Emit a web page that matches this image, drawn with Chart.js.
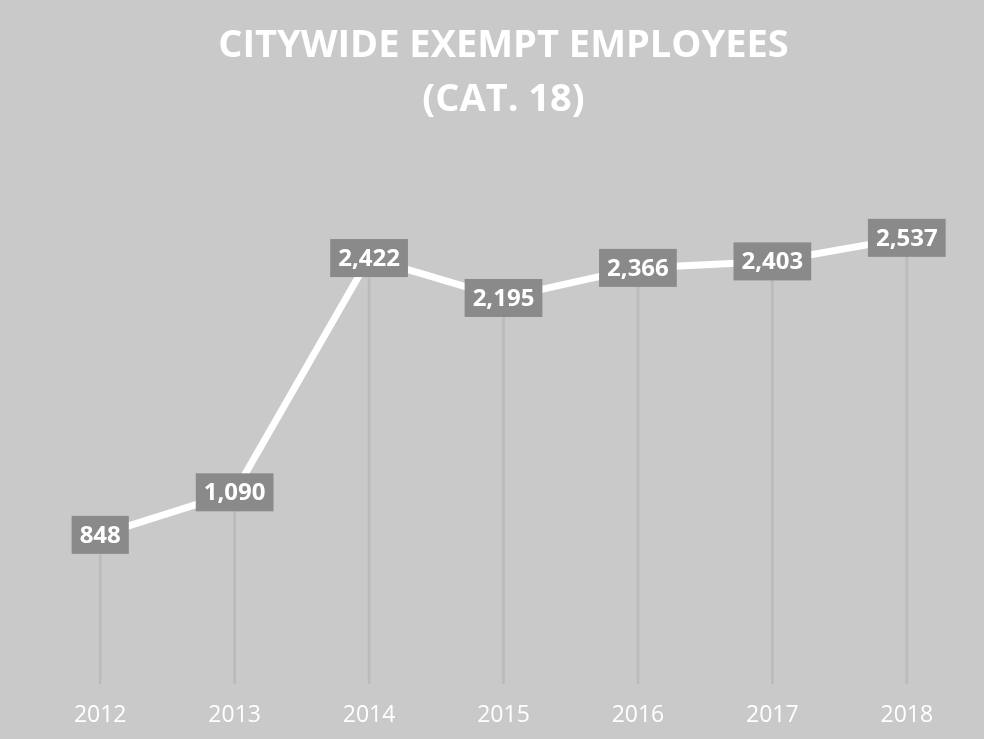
<!DOCTYPE html>
<html>
<head>
<meta charset="utf-8">
<script src="https://cdn.jsdelivr.net/npm/chart.js@4.4.1/dist/chart.umd.min.js"></script>
<style>
    html, body { margin: 0; padding: 0; background: #c9c9c9; }
    #wrap { width: 984px; height: 739px; }
</style>
</head>
<body>
<div id="wrap"><canvas id="exemptChart"></canvas></div>
<script>
const years = ['2012', '2013', '2014', '2015', '2016', '2017', '2018'];
const employees = [848, 1090, 2422, 2195, 2366, 2403, 2537];
const titleLines = ['CITYWIDE EXEMPT EMPLOYEES', '(CAT. 18)'];

// value boxes centred on each point of the line
const valueBoxes = {
    id: 'valueBoxes',
    afterDatasetsDraw(chart) {
        const meta = chart.getDatasetMeta(1);
        const ctx = chart.ctx;
        ctx.save();
        ctx.font = 'bold 24px "Open Sans", sans-serif';
        ctx.textAlign = 'center';
        ctx.textBaseline = 'middle';
        meta.data.forEach((pt, i) => {
            const txt = employees[i].toLocaleString('en-US');
            const w = ctx.measureText(txt).width + 16;
            const h = 38;
            ctx.fillStyle = '#8a8a8a';
            ctx.fillRect(pt.x - w / 2, pt.y - h / 2, w, h);
            ctx.fillStyle = '#ffffff';
            ctx.fillText(txt, pt.x, pt.y + 1);
        });
        ctx.restore();
    }
};

new Chart(document.getElementById('exemptChart').getContext('2d'), {
    data: {
        labels: years,
        datasets: [{
            // faint drop lines under each point
            type: 'bar',
            data: employees,
            backgroundColor: 'rgba(150, 150, 150, 0.28)',
            barThickness: 2,
            order: 2
        }, {
            type: 'line',
            data: employees,
            borderColor: '#ffffff',
            borderWidth: 7,
            pointRadius: 0,
            tension: 0,
            order: 1
        }]
    },
    options: {
        responsive: true,
        maintainAspectRatio: false,
        animation: false,
        layout: { padding: { top: 8, left: 33, right: 10, bottom: 0 } },
        plugins: {
            legend: { display: false },
            tooltip: { enabled: false },
            title: {
                display: true,
                text: titleLines,
                color: '#ffffff',
                font: { family: '"Open Sans", sans-serif', size: 38, weight: 'bold', lineHeight: 1.4 },
                padding: { top: 12, bottom: 30 }
            }
        },
        scales: {
            x: {
                offset: true,
                grid: { display: false, drawTicks: false },
                border: { display: false },
                ticks: {
                    color: '#ffffff',
                    padding: 18,
                    font: { family: '"Open Sans", sans-serif', size: 23 }
                },
                afterFit(scale) { scale.height = 55; }
            },
            y: {
                display: false,
                min: 0,
                max: 3000
            }
        }
    },
    plugins: [valueBoxes]
});
</script>
</body>
</html>
